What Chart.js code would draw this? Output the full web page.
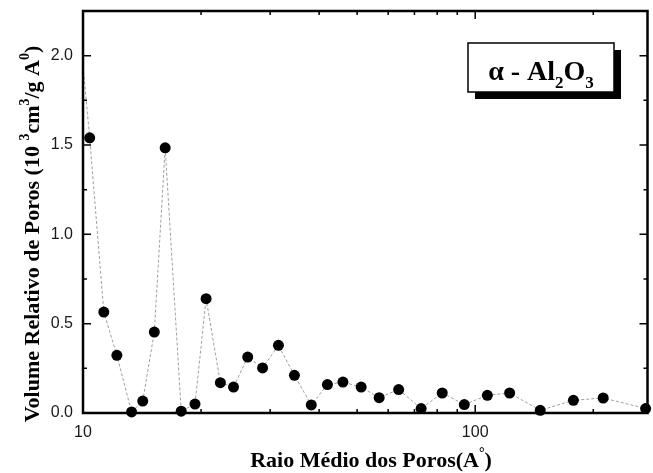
<!DOCTYPE html>
<html>
<head>
<meta charset="utf-8">
<script src="https://cdn.jsdelivr.net/npm/chart.js@4/dist/chart.umd.min.js"></script>
<style>
  html, body { margin: 0; padding: 0; background: #fff; }
  #wrap { width: 653px; height: 473px; }
</style>
</head>
<body>
<div id="wrap"><canvas id="chart" width="653" height="473"></canvas></div>
<script>
// raio médio dos poros (A) e volume relativo (10^3 cm^3/g A)
const radius = [9.9, 10.4, 11.3, 12.2, 13.3, 14.2, 15.2, 16.2, 17.8, 19.3, 20.6, 22.4, 24.2, 26.3,
    28.7, 31.5, 34.6, 38.2, 42.0, 46.0, 51.2, 56.9, 63.8, 72.8, 82.4, 93.8, 107.4, 122.4,
    146.5, 178, 212, 272];
const volume = [2.05, 1.54, 0.565, 0.323, 0.006, 0.067, 0.453, 1.484, 0.01, 0.05, 0.64, 0.17,
    0.145, 0.313, 0.252, 0.379, 0.211, 0.045, 0.159, 0.173, 0.145, 0.086, 0.131, 0.025,
    0.112, 0.047, 0.099, 0.112, 0.015, 0.071, 0.084, 0.025];
const xTicks = [10, 20, 30, 40, 50, 60, 70, 80, 90, 100, 200];
const xLabels = [10, 100];
const yMax = 2.25;
const yStep = 0.25;

const serif = '"Liberation Serif", "Times New Roman", serif';

// draws text pieces in a row, some of them raised or lowered
function richText(ctx, parts, x, y, size) {
    let total = 0;
    parts.forEach(p => {
        ctx.font = "bold " + Math.round(size * (p.s ? 0.62 : 1)) + "px " + serif;
        p.w = ctx.measureText(p.t).width;
        total += p.w;
    });
    let cx = x - total / 2;
    parts.forEach(p => {
        ctx.font = "bold " + Math.round(size * (p.s ? 0.62 : 1)) + "px " + serif;
        ctx.fillText(p.t, cx, y + (p.s || 0) * size);
        cx += p.w;
    });
}

const framePlugin = {
    id: "frame",
    afterDraw(chart) {
        const ctx = chart.ctx;
        const a = chart.chartArea;
        const xs = chart.scales.x, ys = chart.scales.y;
        ctx.save();
        ctx.strokeStyle = "#000";
        ctx.lineWidth = 2.5;
        ctx.strokeRect(a.left, a.top, a.right - a.left, a.bottom - a.top);

        // inward ticks on all four sides
        ctx.lineWidth = 1.5;
        ctx.beginPath();
        ys.ticks.forEach(t => {
            const py = ys.getPixelForValue(t.value);
            const len = t.label ? 8 : 4;
            ctx.moveTo(a.left, py); ctx.lineTo(a.left + len, py);
            ctx.moveTo(a.right, py); ctx.lineTo(a.right - len, py);
        });
        xs.ticks.forEach(t => {
            const px = xs.getPixelForValue(t.value);
            const len = t.label ? 8 : 4;
            ctx.moveTo(px, a.bottom); ctx.lineTo(px, a.bottom - len);
            ctx.moveTo(px, a.top); ctx.lineTo(px, a.top + len);
        });
        ctx.stroke();

        // axis titles
        ctx.fillStyle = "#000";
        ctx.textBaseline = "alphabetic";
        richText(ctx, [{t: "Raio Médio dos Poros(A"}, {t: "°", s: -0.45}, {t: ")"}],
            371, 467, 22);

        ctx.save();
        ctx.translate(39, 234);
        ctx.rotate(-Math.PI / 2);
        richText(ctx, [{t: "Volume Relativo de Poros (10 "}, {t: "3", s: -0.45}, {t: "cm"},
            {t: "3", s: -0.45}, {t: "/g A"}, {t: "0", s: -0.45}, {t: ")"}], 0, 0, 22);
        ctx.restore();

        // label box with shadow
        const bx = a.left + 385, by = a.top + 32, bw = 146, bh = 49;
        ctx.fillStyle = "#000";
        ctx.fillRect(bx + 7, by + 7, bw, bh);
        ctx.fillStyle = "#fff";
        ctx.fillRect(bx, by, bw, bh);
        ctx.lineWidth = 1.5;
        ctx.strokeRect(bx, by, bw, bh);
        ctx.fillStyle = "#000";
        richText(ctx, [{t: "α - Al"}, {t: "2", s: 0.28}, {t: "O"}, {t: "3", s: 0.28}],
            bx + bw / 2, by + 37, 28);
        ctx.restore();
    }
};

new Chart(document.getElementById("chart"), {
    type: "line",
    data: {
        datasets: [{
            data: radius.map((r, i) => ({x: r, y: volume[i]})),
            borderColor: "#a0a0a0",
            borderWidth: 1,
            borderDash: [3, 2],
            pointBackgroundColor: "#000",
            pointBorderWidth: 0,
            pointRadius: c => (c.raw && c.raw.x < 10 ? 0 : 5.5),
            clip: {left: 0, top: 0, right: 8, bottom: 8},
            tension: 0
        }]
    },
    options: {
        responsive: false,
        animation: false,
        devicePixelRatio: 1,
        layout: {padding: {top: 11, right: 3, left: 0, bottom: 0}},
        plugins: {legend: {display: false}, tooltip: {enabled: false}},
        scales: {
            x: {
                type: "logarithmic",
                min: 10,
                max: 275,
                grid: {display: false, drawTicks: false},
                border: {display: false},
                afterBuildTicks: s => { s.ticks = xTicks.map(v => ({value: v})); },
                afterFit: s => { s.height = 60; s.paddingLeft = 0; s.paddingRight = 0; },
                ticks: {
                    autoSkip: false,
                    maxRotation: 0,
                    padding: 10,
                    color: "#1a1a1a",
                    font: {family: '"Liberation Sans", Arial, sans-serif', size: 16},
                    callback: v => (xLabels.includes(v) ? String(v) : "")
                }
            },
            y: {
                min: 0,
                max: yMax,
                grid: {display: false, drawTicks: false},
                border: {display: false},
                afterFit: s => { s.width = 83; s.paddingTop = 0; s.paddingBottom = 0; },
                ticks: {
                    stepSize: yStep,
                    padding: 10,
                    color: "#1a1a1a",
                    font: {family: '"Liberation Sans", Arial, sans-serif', size: 16},
                    callback: v => (Math.abs(v * 2 - Math.round(v * 2)) < 1e-6 ? v.toFixed(1) : "")
                }
            }
        }
    },
    plugins: [framePlugin]
});
</script>
</body>
</html>
